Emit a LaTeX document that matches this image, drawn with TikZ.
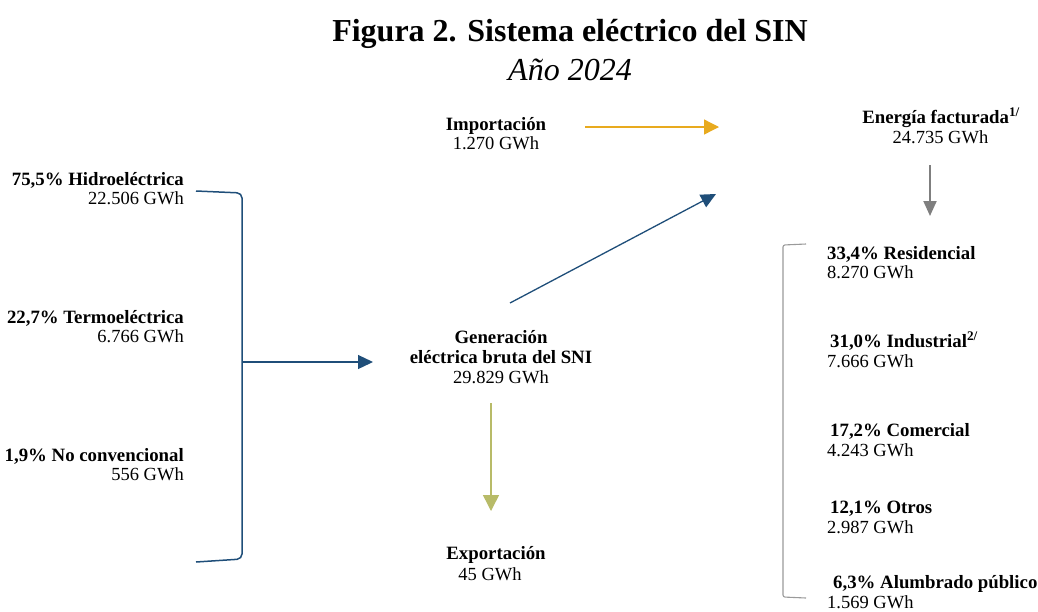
\documentclass[tikz,border=0pt]{standalone}
\usepackage{fontspec}
\setmainfont{Liberation Serif}
\newfontfamily\bodyfont{Liberation Serif}
\usetikzlibrary{arrows.meta}
\definecolor{cblue}{HTML}{1F4E79}
\definecolor{cyel}{HTML}{E8AA1E}
\definecolor{colive}{HTML}{B8BB68}
\definecolor{cgray}{HTML}{7F7F7F}
\definecolor{cgrayl}{HTML}{9A9A9A}
\tikzset{
  lbl/.style={inner sep=0pt, yshift=-1.5pt, font=\bodyfont\fontsize{18.8}{19}\selectfont\bfseries},
  val/.style={inner sep=0pt, yshift=-1.5pt, font=\bodyfont\fontsize{18.5}{19}\selectfont},
  bluearrow/.style={draw=cblue, line width=1.3pt, -{Triangle[length=15pt,width=14pt]}},
}
\begin{document}
\begin{tikzpicture}[x=1pt,y=-1pt]
\useasboundingbox (0,0) rectangle (1038,611);
% title
\node[inner sep=0pt, anchor=base, font=\fontsize{32}{38}\selectfont\bfseries] (title) at (570,41) {Figura 2. Sistema eléctrico del SIN};
\node[inner sep=0pt, anchor=base, font=\fontsize{32}{38}\selectfont\itshape] (subtitle) at (570,80) {Año 2024};
% left
\node[lbl, anchor=base east] (hidroL) at (184,184) {75,5\% Hidroeléctrica};
\node[val, anchor=base east] (hidroV) at (184,203) {22.506 GWh};
\node[lbl, anchor=base east] (termoL) at (184,321.5) {22,7\% Termoeléctrica};
\node[val, anchor=base east] (termoV) at (184,341) {6.766 GWh};
\node[lbl, anchor=base east] (noconvL) at (184,459.5) {1,9\% No convencional};
\node[val, anchor=base east] (noconvV) at (184,478.5) {556 GWh};
% center
\node[lbl, anchor=base] (impL) at (496,128.5) {Importación};
\node[val, anchor=base] (impV) at (496,147.5) {1.270 GWh};
\node[lbl, anchor=base] (genL1) at (501,342) {Generación};
\node[lbl, anchor=base] (genL2) at (501,362) {eléctrica bruta del SNI};
\node[val, anchor=base] (genV) at (501,382) {29.829 GWh};
\node[lbl, anchor=base] (expL) at (496,557.5) {Exportación};
\node[val, anchor=base] (expV) at (490,578.5) {45 GWh};
% right top
\node[lbl, anchor=base] (facL) at (941,121.5) {Energía facturada\textsuperscript{1/}};
\node[val, anchor=base] (facV) at (940.5,141.5) {24.735 GWh};
% right list
\node[lbl, anchor=base west] (resL) at (827,258) {33,4\% Residencial};
\node[val, anchor=base west] (resV) at (827,277) {8.270 GWh};
\node[lbl, anchor=base west] (indL) at (830,345.5) {31,0\% Industrial\textsuperscript{2/}};
\node[val, anchor=base west] (indV) at (827,366) {7.666 GWh};
\node[lbl, anchor=base west] (comL) at (830,434.5) {17,2\% Comercial};
\node[val, anchor=base west] (comV) at (827,454.5) {4.243 GWh};
\node[lbl, anchor=base west] (otrL) at (830,511.5) {12,1\% Otros};
\node[val, anchor=base west] (otrV) at (827,532) {2.987 GWh};
\node[lbl, anchor=base west] (aluL) at (833,587) {6,3\% Alumbrado público};
\node[val, anchor=base west] (aluV) at (827,607) {1.569 GWh};
% coordinates
\coordinate (lbT) at (196,191);
\coordinate (lbTR) at (242,193);
\coordinate (lbBR) at (242,559);
\coordinate (lbB) at (196,562);
\coordinate (lbM) at (242,362);
\coordinate (genIn) at (373,362);
\coordinate (genOut) at (510,303);
\coordinate (facIn) at (716,194);
\coordinate (impOut) at (585,127);
\coordinate (facInY) at (719,127);
\coordinate (facOut) at (930,165);
\coordinate (sectIn) at (930,216);
\coordinate (genDown) at (491,403);
\coordinate (expIn) at (491,511);
\coordinate (rbT) at (806,244);
\coordinate (rbTL) at (783,245);
\coordinate (rbBL) at (783,597);
\coordinate (rbB) at (806,598);
% bracket left
\draw[cblue, line width=1.5pt, rounded corners=5pt] (lbT) -- (lbTR) -- (lbBR) -- (lbB);
\draw[bluearrow] (lbM) -- (genIn);
\draw[bluearrow] (genOut) -- (facIn);
\draw[draw=cyel, line width=1.3pt, -{Triangle[length=15pt,width=15pt]}] (impOut) -- (facInY);
\draw[draw=cgray, line width=2pt, -{Triangle[length=15pt,width=13pt]}] (facOut) -- (sectIn);
\draw[draw=colive, line width=1.5pt, -{Triangle[length=16pt,width=16pt]}] (genDown) -- (expIn);
\draw[cgrayl, line width=1.1pt, rounded corners=2pt] (rbT) -- (rbTL) -- (rbBL) -- (rbB);
\end{tikzpicture}
\end{document}
